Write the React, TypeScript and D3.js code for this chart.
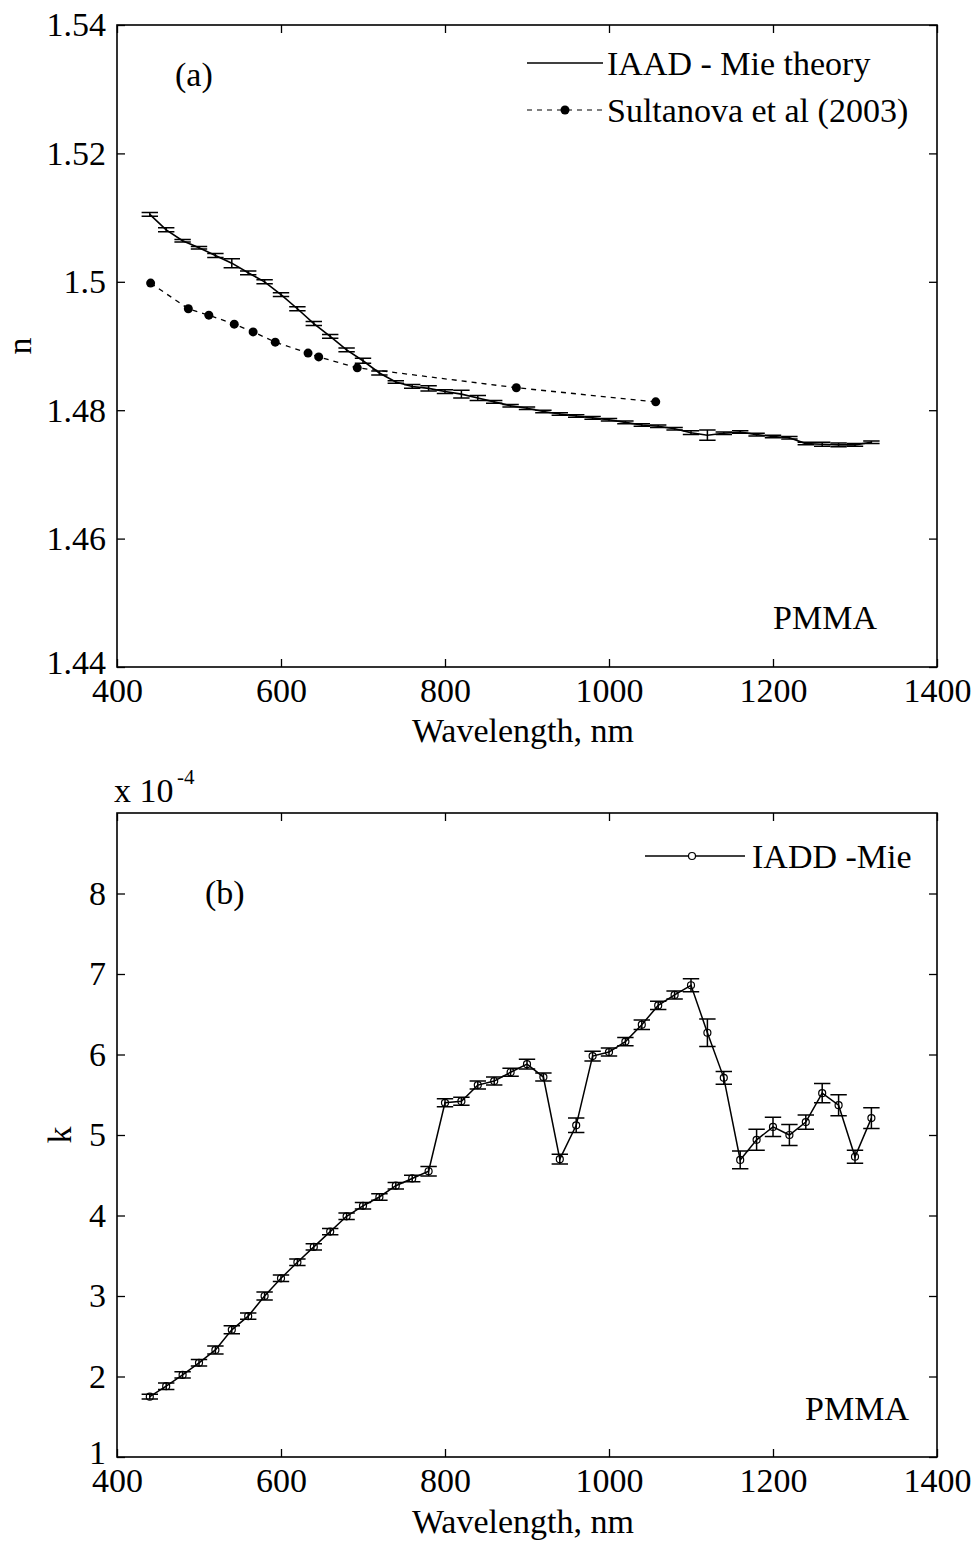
import React, { useEffect, useRef } from "react";
import {
  select,
  scaleLinear,
  axisBottom,
  axisLeft,
  axisTop,
  axisRight,
  line
} from "d3";

// panel (a): refractive index n
const wavelengths = [
  440, 460, 480, 500, 520, 540, 560, 580, 600, 620, 640, 660, 680, 700, 720,
  740, 760, 780, 800, 820, 840, 860, 880, 900, 920, 940, 960, 980, 1000, 1020,
  1040, 1060, 1080, 1100, 1120, 1140, 1160, 1180, 1200, 1220, 1240, 1260, 1280,
  1300, 1320
];
const nIaad = [
  1.5105, 1.5081, 1.5064, 1.5053, 1.5041, 1.5029, 1.5014, 1.5, 1.498, 1.4958,
  1.4935, 1.4915, 1.4894, 1.4877, 1.4858, 1.4844, 1.4837, 1.4834, 1.4829,
  1.4825, 1.4819, 1.4813, 1.4807, 1.4803, 1.4798, 1.4794, 1.4791, 1.4788,
  1.4785, 1.4781, 1.4777, 1.4775, 1.4771, 1.4765, 1.4761, 1.4764, 1.4766,
  1.4762, 1.4759, 1.4757, 1.4748, 1.4747, 1.4746, 1.4746, 1.475
];
const nIaadErr = [
  0.0003, 0.0003, 0.0002, 0.0002, 0.0003, 0.0007, 0.0003, 0.0003, 0.0003,
  0.0003, 0.0003, 0.0003, 0.0003, 0.0004, 0.0003, 0.0002, 0.0003, 0.0004,
  0.0003, 0.0006, 0.0004, 0.0002, 0.0002, 0.0002, 0.0002, 0.0002, 0.0002,
  0.0002, 0.0002, 0.0002, 0.0002, 0.0002, 0.0002, 0.0003, 0.0008, 0.0002,
  0.0002, 0.0002, 0.0002, 0.0002, 0.0002, 0.0003, 0.0003, 0.0002, 0.0002
];
const sultanovaWl = [441, 487, 512, 543, 566, 593, 633, 646, 693, 887, 1057];
const sultanovaN = [
  1.4998, 1.4958, 1.4948, 1.4934, 1.4922, 1.4906, 1.4889, 1.4883, 1.4866,
  1.4835, 1.4813
];

// panel (b): absorption index k (x 10^-4)
const kIadd = [
  1.75, 1.88, 2.02, 2.17, 2.33, 2.58, 2.75, 3.0, 3.22, 3.42, 3.61, 3.8, 3.99,
  4.12, 4.23, 4.37, 4.46, 4.55, 5.4, 5.42, 5.62, 5.67, 5.78, 5.88, 5.72, 4.7,
  5.12, 5.98, 6.03, 6.16, 6.37, 6.61, 6.74, 6.86, 6.27, 5.71, 4.69, 4.94, 5.1,
  5.0, 5.16, 5.52, 5.37, 4.73, 5.21
];
const kIaddErr = [
  0.03, 0.04, 0.04, 0.04, 0.05, 0.05, 0.04, 0.05, 0.04, 0.04, 0.04, 0.04, 0.04,
  0.04, 0.04, 0.04, 0.04, 0.06, 0.05, 0.05, 0.05, 0.05, 0.05, 0.06, 0.05, 0.06,
  0.09, 0.06, 0.05, 0.05, 0.06, 0.05, 0.05, 0.08, 0.17, 0.08, 0.11, 0.13, 0.12,
  0.13, 0.09, 0.12, 0.13, 0.08, 0.13
];

const xTicks = [400, 600, 800, 1000, 1200, 1400];
const nTicks = [1.44, 1.46, 1.48, 1.5, 1.52, 1.54];
const kTicks = [1, 2, 3, 4, 5, 6, 7, 8];

const FONT = "'Liberation Serif', 'Times New Roman', serif";
const FS = 34;
const LEFT = 117;
const RIGHT = 937;

function drawAxes(g, x, y, top, bottom, yTicks, yFormat) {
  const style = (sel) => {
    sel.attr("font-family", FONT).attr("font-size", FS);
    sel.select(".domain").remove();
    sel.selectAll("line").attr("stroke-width", 1.3);
    sel.selectAll("text").attr("fill", "black");
  };
  g.append("g")
    .attr("transform", `translate(0,${bottom})`)
    .call(axisBottom(x).tickValues(xTicks).tickSizeInner(-8).tickSizeOuter(0).tickPadding(11).tickFormat(d => String(d)))
    .call(style);
  g.append("g")
    .attr("transform", `translate(0,${top})`)
    .call(axisTop(x).tickValues(xTicks).tickSizeInner(-8).tickSizeOuter(0).tickFormat(() => ""))
    .call(style);
  const yAxisG = g.append("g")
    .attr("transform", `translate(${LEFT},0)`)
    .call(axisLeft(y).tickValues(yTicks).tickSizeInner(-8).tickSizeOuter(0).tickPadding(11).tickFormat(yFormat))
    .call(style);
  // lowest label sits just above the x labels, as in the original
  yAxisG.selectAll(".tick text").filter((d, i) => i === 0).attr("y", -4);
  g.append("g")
    .attr("transform", `translate(${RIGHT},0)`)
    .call(axisRight(y).tickValues(yTicks).tickSizeInner(-8).tickSizeOuter(0).tickFormat(() => ""))
    .call(style);
  g.append("rect")
    .attr("x", LEFT)
    .attr("y", top)
    .attr("width", RIGHT - LEFT)
    .attr("height", bottom - top)
    .attr("fill", "none")
    .attr("stroke", "black")
    .attr("stroke-width", 1.6);
}

function drawErrorBars(g, x, y, xs, ys, errs) {
  const cap = x(410) - x(400);
  g.selectAll(null)
    .data(xs)
    .join("path")
    .attr("fill", "none")
    .attr("stroke", "black")
    .attr("stroke-width", 1.5)
    .attr("d", (wl, i) => {
      const cx = x(wl);
      const y0 = y(ys[i] - errs[i]);
      const y1 = y(ys[i] + errs[i]);
      return `M${cx},${y0}V${y1}M${cx - cap},${y0}H${cx + cap}M${cx - cap},${y1}H${cx + cap}`;
    });
}

function text(g, x, y, str, opts = {}) {
  return g.append("text")
    .attr("x", x)
    .attr("y", y)
    .attr("font-family", FONT)
    .attr("font-size", opts.size || FS)
    .attr("text-anchor", opts.anchor || "start")
    .attr("fill", "black")
    .text(str);
}

export default function App() {
  const svgRef = useRef(null);

  useEffect(() => {
    const svg = select(svgRef.current);
    svg.selectAll("*").remove();

    const x = scaleLinear().domain([400, 1400]).range([LEFT, RIGHT]);

    // ---- panel (a)
    const topA = 25, botA = 667;
    const yA = scaleLinear().domain([1.44, 1.54]).range([botA, topA]);
    const gA = svg.append("g");
    drawAxes(gA, x, yA, topA, botA, nTicks, d => String(+(+d).toFixed(2)));

    const lineA = line().x(d => x(d[0])).y(d => yA(d[1]));
    gA.append("path")
      .datum(wavelengths.map((wl, i) => [wl, nIaad[i]]))
      .attr("fill", "none")
      .attr("stroke", "black")
      .attr("stroke-width", 1.6)
      .attr("d", lineA);
    drawErrorBars(gA, x, yA, wavelengths, nIaad, nIaadErr);

    gA.append("path")
      .datum(sultanovaWl.map((wl, i) => [wl, sultanovaN[i]]))
      .attr("fill", "none")
      .attr("stroke", "black")
      .attr("stroke-width", 1.3)
      .attr("stroke-dasharray", "5,5")
      .attr("d", lineA);
    gA.selectAll(".sult")
      .data(sultanovaWl)
      .join("circle")
      .attr("class", "sult")
      .attr("cx", d => x(d))
      .attr("cy", (d, i) => yA(sultanovaN[i]))
      .attr("r", 4.5)
      .attr("fill", "black");

    text(gA, 175, 86, "(a)");
    text(gA, 877, 629, "PMMA", { anchor: "end" });
    text(gA, 523, 742, "Wavelength, nm", { anchor: "middle" });
    text(gA, 0, 0, "n", { anchor: "middle" }).attr("transform", "translate(31,346) rotate(-90)");

    // legend (a)
    gA.append("line").attr("x1", 527).attr("x2", 603).attr("y1", 63).attr("y2", 63)
      .attr("stroke", "black").attr("stroke-width", 1.3);
    text(gA, 607, 75, "IAAD - Mie theory");
    gA.append("line").attr("x1", 527).attr("x2", 603).attr("y1", 110).attr("y2", 110)
      .attr("stroke", "black").attr("stroke-width", 1.2).attr("stroke-dasharray", "5,5");
    gA.append("circle").attr("cx", 565).attr("cy", 110).attr("r", 4.5).attr("fill", "black");
    text(gA, 607, 122, "Sultanova et al (2003)");

    // ---- panel (b)
    const topB = 813, botB = 1457;
    const yB = scaleLinear().domain([1, 9]).range([botB, topB]);
    const gB = svg.append("g");
    drawAxes(gB, x, yB, topB, botB, kTicks, d => String(d));

    const lineB = line().x(d => x(d[0])).y(d => yB(d[1]));
    gB.append("path")
      .datum(wavelengths.map((wl, i) => [wl, kIadd[i]]))
      .attr("fill", "none")
      .attr("stroke", "black")
      .attr("stroke-width", 1.5)
      .attr("d", lineB);
    drawErrorBars(gB, x, yB, wavelengths, kIadd, kIaddErr);
    gB.selectAll(".kpt")
      .data(wavelengths)
      .join("circle")
      .attr("class", "kpt")
      .attr("cx", d => x(d))
      .attr("cy", (d, i) => yB(kIadd[i]))
      .attr("r", 3.5)
      .attr("fill", "none")
      .attr("stroke", "black")
      .attr("stroke-width", 1.2);

    text(gB, 205, 904, "(b)");
    text(gB, 909, 1420, "PMMA", { anchor: "end" });
    text(gB, 523, 1533, "Wavelength, nm", { anchor: "middle" });
    text(gB, 0, 0, "k", { anchor: "middle" }).attr("transform", "translate(71,1135) rotate(-90)");
    text(gB, 114, 802, "x 10");
    text(gB, 177, 784, "-4", { size: 21 });

    // legend (b)
    gB.append("line").attr("x1", 645).attr("x2", 745).attr("y1", 856).attr("y2", 856)
      .attr("stroke", "black").attr("stroke-width", 1.3);
    gB.append("circle").attr("cx", 692).attr("cy", 856).attr("r", 3.5)
      .attr("fill", "white").attr("stroke", "black").attr("stroke-width", 1.2);
    text(gB, 752, 868, "IADD -Mie");
  }, []);

  return (
    <svg
      ref={svgRef}
      width={973}
      height={1543}
      style={{ position: "absolute", left: 0, top: 0, background: "white" }}
    />
  );
}
